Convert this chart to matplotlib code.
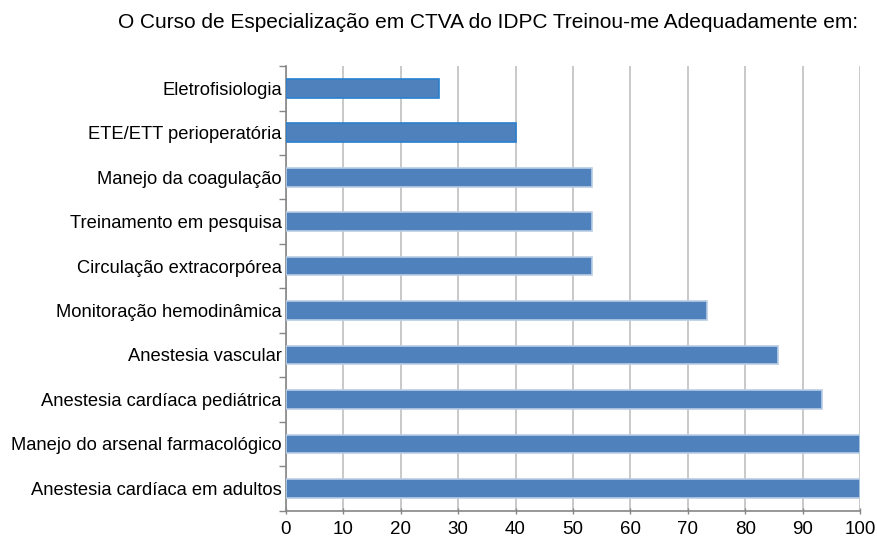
import matplotlib
matplotlib.use("Agg")
from matplotlib import pyplot as plot
import numpy as np

# categories from bottom to top
categories = [
    "Anestesia cardíaca em adultos",
    "Manejo do arsenal farmacológico",
    "Anestesia cardíaca pediátrica",
    "Anestesia vascular",
    "Monitoração hemodinâmica",
    "Circulação extracorpórea",
    "Treinamento em pesquisa",
    "Manejo da coagulação",
    "ETE/ETT perioperatória",
    "Eletrofisiologia",
]
values = [100, 100, 93.3, 85.7, 73.3, 53.3, 53.3, 53.3, 40.0, 26.7]
xticks = [0, 10, 20, 30, 40, 50, 60, 70, 80, 90, 100]
title = "O Curso de Especialização em CTVA do IDPC Treinou-me Adequadamente em:"

plot.rcParams["font.family"] = ["Liberation Sans", "DejaVu Sans"]

figure = plot.figure(figsize=(8.77, 5.38), dpi=100)
axis = figure.add_axes([0.326, 0.051, 0.6546, 0.8262])

pos = np.arange(len(categories))
edgeColors = ["#b9cde5"] * 8 + ["#2a7fcf", "#2a7fcf"]
axis.barh(pos, values, height=0.42, color="#4f81bd", edgecolor=edgeColors, linewidth=1.2, zorder=3)

axis.set_xlim(0, 100)
axis.set_ylim(-0.5, len(categories) - 0.5)
axis.set_xticks(xticks)
axis.set_xticklabels([str(t) for t in xticks], fontsize=13.5)
axis.set_yticks(pos)
axis.set_yticklabels(categories, fontsize=13.2)
axis.set_yticks(np.arange(-0.5, len(categories), 1.0), minor=True)

axis.tick_params(axis="y", which="major", length=0, pad=3)
axis.tick_params(axis="y", which="minor", length=5, color="#868686", width=1)
axis.tick_params(axis="x", which="major", length=5, color="#868686", width=1, pad=5, direction="inout")

axis.grid(axis="x", color="#c0c0c0", linewidth=1.2, zorder=0)
axis.set_axisbelow(True)

for side in ["top", "right"]:
    axis.spines[side].set_visible(False)
for side in ["left", "bottom"]:
    axis.spines[side].set_color("#868686")
    axis.spines[side].set_linewidth(1.2)

figure.text(0.557, 0.959, title, ha="center", va="center", fontsize=15)

plot.savefig("out.png", dpi=100)
